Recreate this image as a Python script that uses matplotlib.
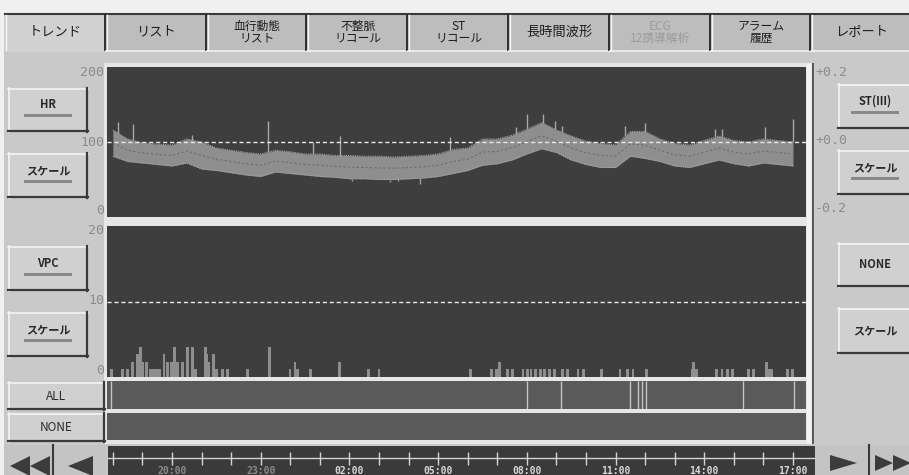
import matplotlib
matplotlib.use('Agg')
import matplotlib.pyplot as plt
import numpy as np
from matplotlib.patches import Rectangle, Polygon

W, H = 909, 475

# ---------------- data (hours since 20:00) ----------------
hr_t = np.arange(-2.0, 21.01, 0.5)
hr_hi = [116, 104, 99, 97, 96, 104, 100, 92, 89, 86, 84, 89, 87, 84, 84, 82, 82, 81, 81, 80,
         81, 82, 84, 90, 92, 104, 104, 109, 117, 126, 116, 108, 101, 98, 96, 114, 114, 104,
         98, 96, 102, 108, 102, 100, 104, 102, 100]
hr_lo = [81, 74, 72, 70, 68, 72, 64, 62, 59, 56, 54, 60, 58, 56, 54, 53, 51, 51, 50, 50,
         51, 52, 54, 58, 62, 69, 71, 76, 84, 91, 86, 76, 70, 66, 66, 81, 78, 74,
         68, 66, 71, 76, 71, 68, 72, 70, 68]
spike_t = [-1.83, -1.32, 0.68, 3.25, 4.77, 5.68, 9.40, 11.63, 12.01, 12.55, 12.95, 13.19,
           15.32, 16.0, 18.36, 18.6, 20.05, 21.0]
spike_v = [127, 124, 110, 128, 100, 108, 107, 120, 137, 137, 128, 121, 121, 126, 117, 117, 120, 131]
dip_t = [6.09, 7.37, 7.64, 8.01, 8.39]
dip_v = [48, 47, 48, 51, 44]

vpc_t = [-2.03, -1.66, -1.49, -1.32, -1.18, -1.08, -0.98, -0.85, -0.74, -0.64, -0.51, -0.41,
         -0.27, -0.14, -0.03, 0.10, 0.20, 0.34, 0.51, 0.54, 0.68, 0.81, 1.12, 1.18, 1.25, 1.39,
         1.49, 1.72, 1.89, 2.54, 3.31, 3.99, 4.16, 4.26, 4.67, 5.68, 6.63, 7.0, 10.08, 10.82,
         10.96, 11.09, 11.36, 11.5, 11.87, 12.01, 12.14, 12.28, 12.45, 12.61, 12.78, 12.95,
         13.22, 13.36, 13.73, 13.9, 14.54, 15.15, 15.39, 15.59, 16.06, 17.59, 17.65, 17.75,
         18.43, 18.6, 18.77, 18.97, 19.48, 19.65, 20.12, 20.22, 20.29, 20.80, 20.97]
vpc_n = [1, 1, 1, 2, 3, 4, 2, 2, 1, 1, 1, 1,
         3, 2, 2, 4, 2, 2, 3, 4, 4, 1, 4, 3, 2, 3,
         1, 1, 1, 1, 4, 1, 2, 1, 1, 2, 1, 1, 1, 1,
         1, 2, 1, 1, 1, 1, 1, 1, 1, 1, 1, 1,
         1, 1, 1, 1, 1, 1, 1, 1, 1, 1, 2, 1,
         1, 1, 1, 1, 1, 1, 2, 1, 1, 1, 1]
event_t = [-2.06, 12.01, 13.16, 15.49, 15.76, 15.89, 16.02, 19.31, 21.03]

tick_hours = list(range(-2, 22))
label_hours = [0, 3, 6, 9, 12, 15, 18, 21]
time_labels = ['20:00', '23:00', '02:00', '05:00', '08:00', '11:00', '14:00', '17:00']

tab_labels = ['トレンド', 'リスト', '血行動態\nリスト', '不整脈\nリコール', 'ST\nリコール',
              '長時間波形', 'ECG\n12誘導解析', 'アラーム\n履歴', 'レポート']

hr_ticks = [200, 100, 0]
vpc_ticks = [20, 10, 0]
st_ticks = ['+0.2', '+0.0', '-0.2']

# ---------------- style ----------------
PAGE = '#c9c9c9'
PLOT = '#3e3e3e'
ROW = '#5a5a5a'
LIGHT = '#e6e6e6'
JP = ['Noto Sans CJK JP', 'DejaVu Sans']
MONO = 'DejaVu Sans Mono'

X0PX, HPX = 172.0, 29.57  # 20:00 position and pixels per hour


def h_of(px):
    return (px - X0PX) / HPX


fig = plt.figure(figsize=(W / 100, H / 100), dpi=100)
fig.patch.set_facecolor(PAGE)

bg = fig.add_axes([0, 0, 1, 1])
bg.set_xlim(0, W)
bg.set_ylim(H, 0)
bg.axis('off')


def px_axes(x0, y0, x1, y1, z=2):
    ax = fig.add_axes([x0 / W, 1 - y1 / H, (x1 - x0) / W, (y1 - y0) / H])
    ax.set_zorder(z)
    return ax


def rect(x0, y0, x1, y1, fc, ec='none', lw=0, z=1):
    bg.add_patch(Rectangle((x0, y0), x1 - x0, y1 - y0, facecolor=fc, edgecolor=ec, lw=lw, zorder=z))


def button(x0, y0, x1, y1, label, bar=False, size=8, weight='bold', ty=None):
    rect(x0, y0, x1, y1, '#d0d0d0', z=2)
    bg.plot([x0, x1], [y0 + 0.5, y0 + 0.5], color='#f4f4f4', lw=1.2, zorder=3)
    bg.plot([x0 + 0.5, x0 + 0.5], [y0, y1], color='#f4f4f4', lw=1.2, zorder=3)
    bg.plot([x0, x1], [y1 - 1, y1 - 1], color='#3a3a3a', lw=1.6, zorder=3)
    bg.plot([x1 - 1, x1 - 1], [y0, y1], color='#3a3a3a', lw=1.6, zorder=3)
    cx = (x0 + x1) / 2
    if ty is None:
        ty = (y0 + y1) / 2 - (5 if bar else 0)
    bg.text(cx, ty, label, ha='center', va='center', fontsize=size, weight=weight,
            family=JP, color='#2a2a2a', zorder=4)
    if bar:
        rect(cx - 24, ty + 9, cx + 24, ty + 12, '#8a8a8a', z=4)


# top strip and tabs
rect(0, 0, W, 13, '#f0f0f0', z=0.5)
rect(0, 0, 4, H, '#f0f0f0', z=0.5)
bg.plot([5, W], [13.5, 13.5], color='#3a3a3a', lw=1.5, zorder=3)
tab_w = 100.8
for i, lab in enumerate(tab_labels):
    x0 = 5 + tab_w * i
    x1 = x0 + tab_w
    sel = (i == 0)
    fc = '#d2d2d2' if sel else '#bdbdbd'
    rect(x0, 14, x1, 52 if sel else 50, fc, z=1.5)
    if not sel:
        bg.plot([x0, x1], [50.5, 50.5], color='#f0f0f0', lw=1.2, zorder=3)
    bg.plot([x0 + 1, x0 + 1], [15, 50], color='#f4f4f4', lw=1, zorder=3)
    bg.plot([x1 - 1, x1 - 1], [15, 50], color='#2e2e2e', lw=1.4, zorder=3)
    two = '\n' in lab
    col = '#9c9c9c' if lab.startswith('ECG') else '#1e1e1e'
    bg.text((x0 + x1) / 2, 32, lab, ha='center', va='center', fontsize=8.5 if two else 9.5,
            family=JP, color=col, linespacing=0.9, zorder=4)

# light frame behind plot panels
rect(104, 63, 813, 444, LIGHT, z=1)
rect(812, 63, 814, 444, '#5a5a5a', z=1.2)

# left buttons
button(8, 88, 88, 132, 'HR', bar=True)
button(8, 153, 88, 198, 'スケール', bar=True)
button(8, 246, 88, 291, 'VPC', bar=True)
button(8, 312, 88, 357, 'スケール', bar=True)
button(8, 382, 105, 410, 'ALL', weight='normal', size=8.5)
button(8, 413, 105, 442, 'NONE', weight='normal', size=8.5)
# right buttons
button(838, 84, 912, 129, 'ST(III)', bar=True)
button(838, 150, 912, 195, 'スケール', bar=True)
button(838, 243, 912, 287, 'NONE')
button(838, 308, 912, 354, 'スケール')

# tick labels for HR / VPC / ST
for v, y in zip(hr_ticks, [73, 143, 210]):
    bg.text(104, y, str(v), ha='right', va='center', fontsize=9.5, family=MONO, color='#8c8c8c', zorder=4)
for v, y in zip(vpc_ticks, [231, 301, 371]):
    bg.text(104, y, str(v), ha='right', va='center', fontsize=9.5, family=MONO, color='#8c8c8c', zorder=4)
for v, y in zip(st_ticks, [73, 141, 208]):
    bg.text(815, y, v, ha='left', va='center', fontsize=9.5, family=MONO, color='#8c8c8c', zorder=4)

# ---------------- panels ----------------
xl = (h_of(107), h_of(806))

ax_hr = px_axes(107, 67, 806, 217)
ax_hr.set_facecolor(PLOT)
ax_hr.fill_between(hr_t, hr_lo, hr_hi, color='#8e8e8e', lw=0)
mid = (np.array(hr_hi) + np.array(hr_lo)) / 2
ax_hr.plot(hr_t, mid, color='#6e6e6e', lw=0.8, ls=(0, (2, 2)))
ax_hr.plot(hr_t, hr_hi, color='#a6a6a6', lw=0.8, ls=(0, (1, 1)))
ax_hr.plot(hr_t, hr_lo, color='#a6a6a6', lw=0.8, ls=(0, (1, 1)))
ax_hr.vlines(spike_t, np.interp(spike_t, hr_t, hr_hi), spike_v, color='#a8a8a8', lw=1)
ax_hr.vlines(dip_t, dip_v, np.interp(dip_t, hr_t, hr_lo), color='#a0a0a0', lw=1)
ax_hr.axhline(100, color='#e8e8e8', lw=1, ls=(0, (3, 2)))
ax_hr.set_xlim(*xl)
ax_hr.set_ylim(0, 200)

ax_vpc = px_axes(107, 226, 806, 377)
ax_vpc.set_facecolor(PLOT)
ax_vpc.bar(vpc_t, vpc_n, width=0.1, color='#8e8e8e', lw=0)
ax_vpc.axhline(10, color='#e8e8e8', lw=1, ls=(0, (3, 2)))
ax_vpc.set_xlim(*xl)
ax_vpc.set_ylim(0, 20)

ax_all = px_axes(107, 381, 806, 409)
ax_all.set_facecolor(ROW)
ax_all.vlines(event_t, 0, 1, color='#c4c4c4', lw=1)
ax_all.set_xlim(*xl)
ax_all.set_ylim(0, 1)

ax_none = px_axes(107, 413, 806, 440)
ax_none.set_facecolor(ROW)
ax_none.set_xlim(*xl)

for ax in (ax_hr, ax_vpc, ax_all, ax_none):
    ax.set_xticks([])
    ax.set_yticks([])
    for s in ax.spines.values():
        s.set_visible(False)

# right white bar
rect(807, 64, 811, 444, '#f2f2f2', z=5)

# ---------------- time axis ----------------
ax_t = px_axes(108, 446, 815, 475)
ax_t.set_facecolor('#3a3a3a')
ax_t.set_xlim(h_of(108), h_of(815))
ax_t.set_ylim(475, 446)
ax_t.axhline(458, color='#d4d4d4', lw=1)
ax_t.vlines(tick_hours, 452, 465, color='#d4d4d4', lw=1)
for hh, lab in zip(label_hours, time_labels):
    col = '#8a8a8a' if hh < 6 else '#d8d8d8'
    ax_t.text(hh, 471, lab, ha='center', va='center', fontsize=7, family=MONO,
              weight='bold', color=col)
ax_t.set_xticks([])
ax_t.set_yticks([])
for s in ax_t.spines.values():
    s.set_visible(False)

# navigation buttons
rect(4, 445, 107, 475, '#c4c4c4', z=1)
rect(815, 445, W, 475, '#c4c4c4', z=1)
bg.plot([53, 53], [445, 475], color='#3a3a3a', lw=1.5, zorder=3)
bg.plot([869, 869], [445, 475], color='#3a3a3a', lw=1.5, zorder=3)
for tri in ([(10, 466), (30, 456), (30, 476)], [(30, 466), (50, 456), (50, 476)],
            [(68, 466), (93, 456), (93, 476)],
            [(857, 463), (830, 455), (830, 471)],
            [(893, 463), (875, 455), (875, 471)], [(911, 463), (893, 455), (893, 471)]):
    bg.add_patch(Polygon(tri, closed=True, facecolor='#3c3c3c', edgecolor='none', zorder=4))

fig.savefig('out.png', dpi=100, facecolor=fig.get_facecolor())
